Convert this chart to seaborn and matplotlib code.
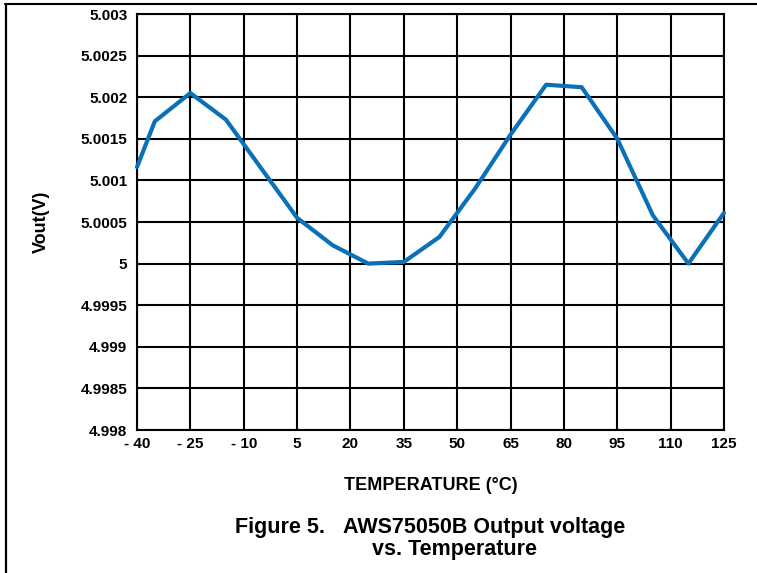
import matplotlib
matplotlib.use("Agg")
import matplotlib.pyplot as plt
from matplotlib.lines import Line2D
import pandas as pd
import seaborn as sns

# temperature (deg C) and output voltage (V)
temperature = [-40, -35, -25, -15, -5, 5, 15, 25, 35, 45, 55, 65, 75, 85, 95, 105, 115, 125]
vout = [5.00116, 5.00171, 5.00205, 5.00173, 5.00114, 5.00055, 5.00022, 5.00000, 5.00002,
        5.00032, 5.00090, 5.00155, 5.00215, 5.00212, 5.00150, 5.00058, 5.00000, 5.00061]

x_ticks = [-40, -25, -10, 5, 20, 35, 50, 65, 80, 95, 110, 125]
x_labels = ["- 40", "- 25", "- 10", "5", "20", "35", "50", "65", "80", "95", "110", "125"]
y_ticks = [4.998, 4.9985, 4.999, 4.9995, 5.0, 5.0005, 5.001, 5.0015, 5.002, 5.0025, 5.003]
y_labels = ["4.998", "4.9985", "4.999", "4.9995", "5", "5.0005", "5.001", "5.0015",
            "5.002", "5.0025", "5.003"]

df = pd.DataFrame({"temp": temperature, "vout": vout})

sns.set_style("white")
plt.rcParams["font.family"] = ["Liberation Sans", "DejaVu Sans"]
plt.rcParams["font.weight"] = "bold"
plt.rcParams["text.color"] = "black"

fig = plt.figure(figsize=(7.57, 5.73), dpi=100)
ax = fig.add_axes([137 / 757, 1 - 430 / 573, (724 - 137) / 757, (430 - 14) / 573])

sns.lineplot(data=df, x="temp", y="vout", ax=ax, color="#0A71B9", linewidth=3.0,
             zorder=3, clip_on=False)

ax.set_xlim(-40, 125)
ax.set_ylim(4.998, 5.003)
ax.set_xticks(x_ticks)
ax.set_xticklabels(x_labels)
ax.set_yticks(y_ticks)
ax.set_yticklabels(y_labels)
ax.tick_params(axis="both", length=0, colors="black", labelsize=11)
ax.tick_params(axis="x", pad=5)
ax.tick_params(axis="y", pad=7)
for lab in ax.get_xticklabels() + ax.get_yticklabels():
    lab.set_fontweight("bold")

ax.grid(True, color="black", linewidth=1.5)
for s in ax.spines.values():
    s.set_color("black")
    s.set_linewidth(1.5)

ax.set_xlabel("TEMPERATURE (°C)", fontsize=13, fontweight="bold", color="black", labelpad=19)
ax.set_ylabel("Vout(V)", fontsize=13, fontweight="bold", color="black", labelpad=22)

# caption
fig.text(235 / 757, 1 - 527 / 573, "Figure 5.", fontsize=15.5, fontweight="bold",
         va="center", color="black")
fig.text(343 / 757, 1 - 527 / 573, "AWS75050B Output voltage", fontsize=15.5,
         fontweight="bold", va="center", color="black")
fig.text(372 / 757, 1 - 549 / 573, "vs. Temperature", fontsize=15.5, fontweight="bold",
         va="center", color="black")

# page frame lines
fig.add_artist(Line2D([5 / 757, 1], [1 - 3.5 / 573, 1 - 3.5 / 573], color="black", linewidth=1.5))
fig.add_artist(Line2D([5.5 / 757, 5.5 / 757], [0, 1 - 3.5 / 573], color="black", linewidth=1.6))

fig.savefig("out.png", dpi=100)
